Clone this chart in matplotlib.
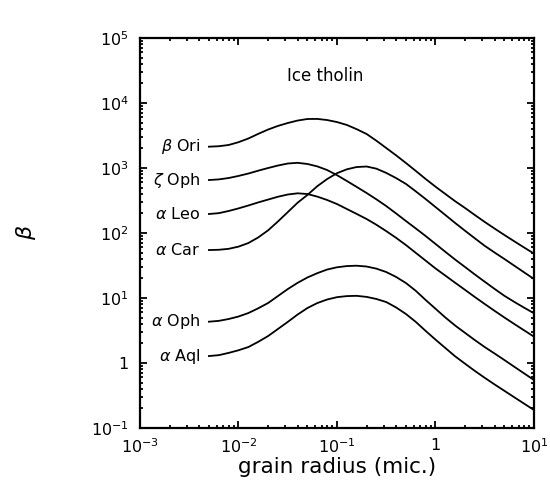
import matplotlib
matplotlib.use('Agg')
import matplotlib.pyplot as plt
from matplotlib.ticker import FixedLocator, FixedFormatter, LogLocator, NullFormatter

# grain radius in microns
radius = [0.00501, 0.00631, 0.00794, 0.01, 0.0126, 0.0158, 0.02, 0.0251,
          0.0316, 0.0398, 0.0501, 0.0631, 0.0794, 0.1, 0.126, 0.158, 0.2,
          0.251, 0.316, 0.398, 0.501, 0.631, 0.794, 1.0, 1.26, 1.58, 2.0,
          2.51, 3.16, 3.98, 5.01, 6.31, 7.94, 10.0]

stars = [r'$\beta$ Ori', r'$\zeta$ Oph', r'$\alpha$ Leo',
         r'$\alpha$ Car', r'$\alpha$ Oph', r'$\alpha$ Aql']

# radiation pressure / gravity ratio for each star
beta_ori = [2128, 2163, 2259, 2495, 2844, 3342, 3908, 4436, 4920, 5370,
            5675, 5690, 5470, 5093, 4592, 3963, 3334, 2630, 2032, 1567,
            1194, 902, 678, 516, 398, 309, 242, 189, 148, 117, 93.1, 74.5,
            59.8, 48.2]
zeta_oph = [653, 668, 701, 755, 822, 908, 1000, 1091, 1172, 1202, 1153,
            1059, 931, 776, 631, 513, 412, 330, 260, 200, 153, 117.5, 89.9,
            67.9, 51.3, 39.1, 29.9, 23.0, 17.8, 13.8, 10.8, 8.71, 7.10, 5.82]
alpha_leo = [196, 202, 218, 239, 265, 295, 327, 361, 391, 408, 398, 363,
             322, 279, 234, 197, 164, 134, 107, 84.3, 65.3, 49.5, 37.6,
             28.5, 22.1, 17.2, 13.3, 10.35, 8.09, 6.35, 5.01, 3.98, 3.18,
             2.54]
alpha_car = [54.7, 55.2, 57.1, 61.7, 70.1, 85.1, 110, 150, 209, 292, 385,
             525, 676, 832, 955, 1035, 1054, 977, 841, 700, 569, 437, 333,
             251, 189, 143, 108, 82.8, 63.5, 50.1, 39.8, 31.4, 24.8, 19.6]
alpha_oph = [4.32, 4.45, 4.75, 5.19, 5.87, 6.92, 8.38, 10.7, 13.7, 17.1,
             20.7, 24.1, 27.4, 29.7, 31.0, 31.4, 30.5, 28.3, 25.1, 21.1,
             17.0, 12.9, 9.33, 6.84, 5.01, 3.78, 2.90, 2.25, 1.76, 1.40,
             1.11, 0.875, 0.692, 0.547]
alpha_aql = [1.28, 1.32, 1.43, 1.57, 1.76, 2.11, 2.60, 3.33, 4.28, 5.56,
             7.01, 8.36, 9.48, 10.3, 10.7, 10.8, 10.4, 9.66, 8.67, 7.16,
             5.68, 4.29, 3.12, 2.29, 1.70, 1.27, 0.973, 0.755, 0.592, 0.468,
             0.373, 0.297, 0.237, 0.189]

curves = [beta_ori, zeta_oph, alpha_leo, alpha_car, alpha_oph, alpha_aql]

xticks = [1e-3, 1e-2, 1e-1, 1, 10]
xticklabels = [r'$10^{-3}$', r'$10^{-2}$', r'$10^{-1}$', '1', r'$10^{1}$']
yticks = [0.1, 1, 10, 100, 1e3, 1e4, 1e5]
yticklabels = [r'$10^{-1}$', '1', r'$10^{1}$', r'$10^{2}$',
               r'$10^{3}$', r'$10^{4}$', r'$10^{5}$']

fig = plt.figure(figsize=(5.5, 4.91), dpi=100)
ax = fig.add_axes([0.2545, 0.1283, 0.7164, 0.7943])

for name, vals in zip(stars, curves):
    ax.plot(radius, vals, color='k', lw=1.3)
    ax.annotate(name, xy=(radius[0], vals[0]), xytext=(-6, 0),
                textcoords='offset points', ha='right', va='center',
                fontsize=11.5)

ax.set_xscale('log')
ax.set_yscale('log')
ax.set_xlim(1e-3, 10)
ax.set_ylim(0.1, 1e5)

ax.xaxis.set_major_locator(FixedLocator(xticks))
ax.xaxis.set_major_formatter(FixedFormatter(xticklabels))
ax.yaxis.set_major_locator(FixedLocator(yticks))
ax.yaxis.set_major_formatter(FixedFormatter(yticklabels))
for axis in (ax.xaxis, ax.yaxis):
    axis.set_minor_locator(LogLocator(base=10, subs=range(2, 10), numticks=20))
    axis.set_minor_formatter(NullFormatter())

ax.tick_params(which='both', direction='in', top=True, right=True,
               width=1.3, labelsize=11.5)
ax.tick_params(which='major', length=5)
ax.tick_params(which='minor', length=2.5)
ax.tick_params(axis='x', pad=7)
ax.tick_params(axis='y', pad=8)
for sp in ax.spines.values():
    sp.set_linewidth(1.6)

ax.text(0.4695, 0.8897, 'Ice tholin', transform=ax.transAxes,
        ha='center', va='baseline', fontsize=12)

ax.set_xlabel('grain radius (mic.)', fontsize=15.5)
ax.xaxis.set_label_coords(0.5, -0.075)
fig.text(26 / 550, 1 - 232 / 491, r'$\beta$', rotation=90,
         ha='center', va='center', fontsize=16)

fig.savefig('out.png', dpi=100)
